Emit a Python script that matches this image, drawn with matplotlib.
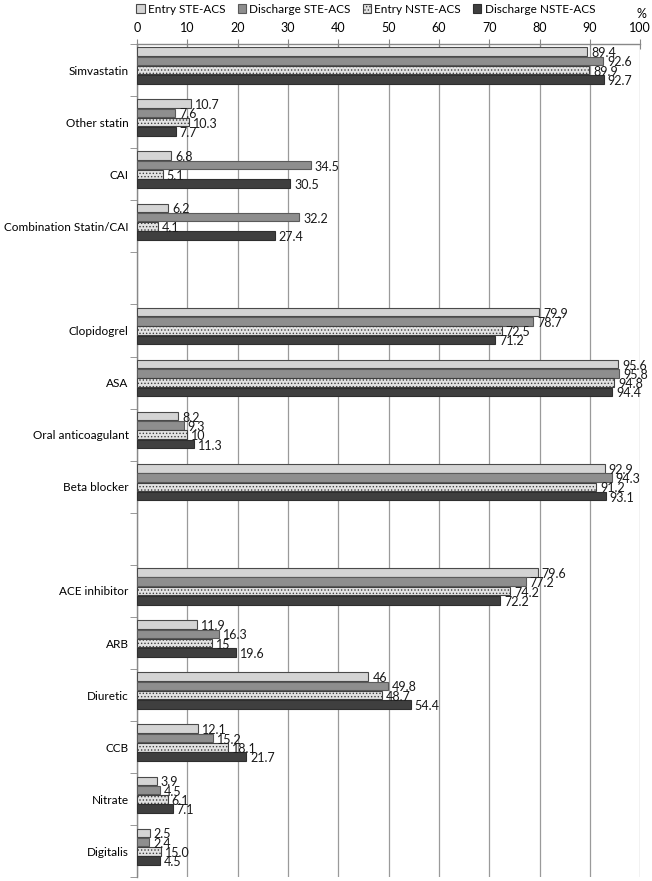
import matplotlib.pyplot as plt
import numpy as np

plt.rcParams['font.family'] = ['Lato', 'DejaVu Sans']
plt.rcParams['hatch.linewidth'] = 0.6

# categories top to bottom, '' = empty spacer slot
categories = ['Simvastatin', 'Other statin', 'CAI', 'Combination Statin/CAI', '',
              'Clopidogrel', 'ASA', 'Oral anticoagulant', 'Beta blocker', '',
              'ACE inhibitor', 'ARB', 'Diuretic', 'CCB', 'Nitrate', 'Digitalis']

series_names = ['Entry STE-ACS', 'Discharge STE-ACS', 'Entry NSTE-ACS', 'Discharge NSTE-ACS']

entry_ste = [89.4, 10.7, 6.8, 6.2, None, 79.9, 95.6, 8.2, 92.9, None, 79.6, 11.9, 46, 12.1, 3.9, 2.5]
discharge_ste = [92.6, 7.6, 34.5, 32.2, None, 78.7, 95.8, 9.3, 94.3, None, 77.2, 16.3, 49.8, 15.2, 4.5, 2.4]
entry_nste = [89.9, 10.3, 5.1, 4.1, None, 72.5, 94.8, 10, 91.2, None, 74.2, 15, 48.7, 18.1, 6.1, 4.8]
discharge_nste = [92.7, 7.7, 30.5, 27.4, None, 71.2, 94.4, 11.3, 93.1, None, 72.2, 19.6, 54.4, 21.7, 7.1, 4.5]

# data labels as printed on the chart
entry_ste_lbl = ['89.4', '10.7', '6.8', '6.2', '', '79.9', '95.6', '8.2', '92.9', '', '79.6', '11.9', '46', '12.1', '3.9', '2.5']
discharge_ste_lbl = ['92.6', '7.6', '34.5', '32.2', '', '78.7', '95.8', '9.3', '94.3', '', '77.2', '16.3', '49.8', '15.2', '4.5', '2.4']
entry_nste_lbl = ['89.9', '10.3', '5.1', '4.1', '', '72.5', '94.8', '10', '91.2', '', '74.2', '15', '48.7', '18.1', '6.1', '15.0']
discharge_nste_lbl = ['92.7', '7.7', '30.5', '27.4', '', '71.2', '94.4', '11.3', '93.1', '', '72.2', '19.6', '54.4', '21.7', '7.1', '4.5']

xticks = [0, 10, 20, 30, 40, 50, 60, 70, 80, 90, 100]

all_vals = [entry_ste, discharge_ste, entry_nste, discharge_nste]
all_lbls = [entry_ste_lbl, discharge_ste_lbl, entry_nste_lbl, discharge_nste_lbl]
faces = ['#d4d4d4', '#8e8e8e', '#e2e2e2', '#3f3f3f']
edges = ['#4a4a4a', '#5a5a5a', '#404040', '#2e2e2e']
hatches = [None, None, '.....', None]

fig = plt.figure(figsize=(6.52, 8.81), dpi=100)
ax = fig.add_axes([0.21, 0.004, 0.772, 0.946])

y = np.arange(len(categories))
pitch = 0.178
height = 0.165

for i, (vals, lbls) in enumerate(zip(all_vals, all_lbls)):
    idx = [k for k, val in enumerate(vals) if val is not None]
    pos = [y[k] + (i - 2) * pitch for k in idx]
    v = [vals[k] for k in idx]
    ax.barh(pos, v, height=height, color=faces[i], edgecolor=edges[i],
            hatch=hatches[i], linewidth=0.8, label=series_names[i], zorder=3)
    for p, val, k in zip(pos, v, idx):
        ax.text(val + 0.8, p + 0.03, lbls[k], va='center', ha='left',
                fontsize=9, color='#1a1a1a', zorder=4)

ax.set_ylim(len(categories) - 0.5, -0.5)
ax.set_xlim(0, 100)
ax.set_yticks(y)
ax.set_yticklabels(categories, fontsize=8.5)
ax.set_yticks(np.arange(len(categories) + 1) - 0.5, minor=True)
ax.tick_params(axis='y', which='major', length=0, pad=6)
ax.tick_params(axis='y', which='minor', length=5, color='#888888', direction='out')

ax.xaxis.tick_top()
ax.set_xticks(xticks)
ax.set_xticklabels([str(t) for t in xticks], fontsize=9)
ax.tick_params(axis='x', which='major', length=7, direction='inout', color='#888888', pad=4)
ax.grid(axis='x', color='#9a9a9a', linewidth=0.9, zorder=0)

for s in ['right', 'bottom']:
    ax.spines[s].set_visible(False)
for s in ['left', 'top']:
    ax.spines[s].set_color('#888888')
    ax.spines[s].set_linewidth(1.0)

fig.text(0.992, 0.984, '%', fontsize=9, ha='right', va='center')
fig.legend(loc='upper left', bbox_to_anchor=(0.193, 1.008), ncol=4, frameon=False,
           fontsize=8.5, handlelength=0.7, handleheight=0.7, handletextpad=0.3,
           columnspacing=1.0)

fig.savefig('out.png', dpi=100)
